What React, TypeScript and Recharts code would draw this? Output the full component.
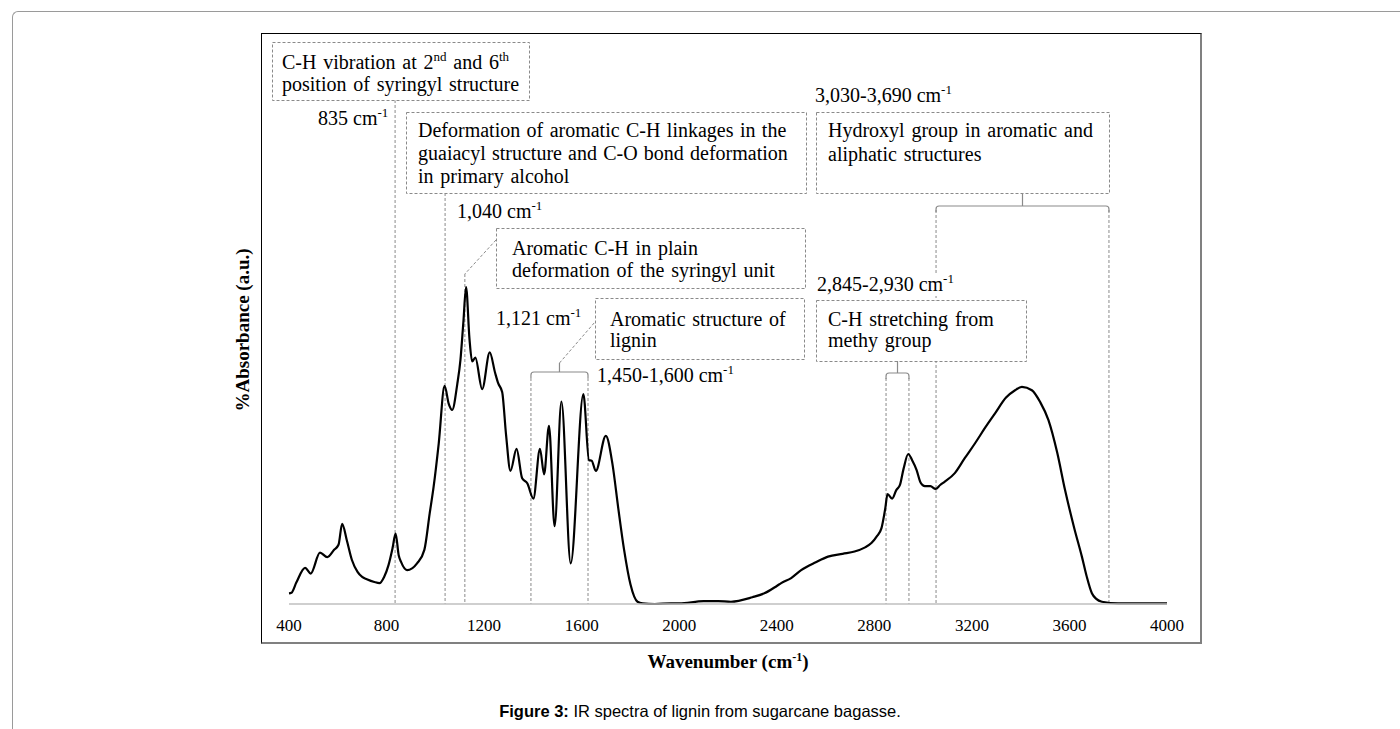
import React from 'react';
import { LineChart, Line, XAxis, YAxis, ReferenceLine } from 'recharts';

// ---- data ----
const wavenumbers = [
  400, 410, 430, 466, 489, 527, 557, 585, 603, 618, 637, 658, 681, 700, 719, 750, 771, 790, 808, 825,
  837, 850, 859, 884, 925, 955, 977, 993, 1014, 1038, 1055, 1069, 1090, 1103, 1115, 1126, 1140, 1151,
  1164, 1192, 1223, 1245, 1258, 1274, 1290, 1308, 1333, 1356, 1377, 1402, 1429, 1446, 1466, 1489, 1517,
  1555, 1607, 1630, 1641, 1658, 1699, 1726, 1750, 1774, 1800, 1829, 1850, 1900, 1966, 2000, 2100, 2160,
  2212, 2300, 2349, 2400, 2418, 2459, 2500, 2560, 2610, 2670, 2719, 2760, 2788, 2810, 2829, 2845, 2854,
  2873, 2890, 2905, 2920, 2939, 2955, 2973, 2990, 3007, 3030, 3051, 3070, 3089, 3130, 3170, 3213, 3255,
  3295, 3340, 3377, 3405, 3446, 3480, 3514, 3550, 3582, 3620, 3651, 3670, 3692, 3710, 3733, 3800, 4000,
];
const absorbance = [
  1.9, 2.0, 3.8, 6.4, 5.4, 9.1, 8.3, 9.6, 10.5, 14.2, 11.3, 7.8, 5.7, 4.8, 4.4, 3.9, 3.7, 4.8, 6.9, 10.0,
  12.5, 8.6, 7.5, 6.0, 7.2, 9.6, 16.1, 20.8, 28.5, 38.7, 35.5, 34.4, 39.0, 43.3, 50.0, 56.2, 47.0, 43.0,
  43.7, 38.1, 44.6, 41.0, 39.1, 37.6, 30.0, 23.6, 27.5, 22.3, 21.4, 18.7, 27.5, 23.0, 31.6, 13.8, 35.9,
  7.2, 37.2, 25.5, 25.4, 23.6, 29.8, 24.9, 17.0, 9.6, 3.5, 0.4, 0.1, 0.0, 0.1, 0.1, 0.5, 0.5,
  0.4, 1.2, 1.9, 3.2, 3.7, 4.6, 6.0, 7.4, 8.4, 8.9, 9.3, 10.0, 10.8, 12.0, 13.4, 17.0, 19.5,
  18.7, 20.2, 21.1, 24.0, 26.6, 25.5, 23.8, 21.5, 20.9, 20.9, 20.4, 21.1, 21.7, 23.2, 25.8, 28.5, 31.3,
  33.8, 36.6, 37.9, 38.5, 37.9, 35.8, 32.6, 26.8, 20.2, 13.4, 8.4, 5.0, 1.9, 0.9, 0.4, 0.1, 0.1,
];
const xTicks = [400, 800, 1200, 1600, 2000, 2400, 2800, 3200, 3600, 4000];
// wavenumbers where the dashed marker lines are drawn in the figure
const markerLines = [835, 1040, 1121, 1392, 1626, 2848, 2942, 3053, 3762];
const markerTopsPx = [100, 193, 274, 378, 378, 378, 378, 210, 210];

const data = wavenumbers.map((w, i) => ({ w, a: absorbance[i] }));

// ---- layout ----
const W = 1400;
const H = 729;
const PL = 289;
const PR = 1167;
const PT = 40;
const PB = 604;
const XMIN = 400;
const XMAX = 4000;
const YMAX = 100;
const X_AXIS_H = 30;

const xPx = (w: number) => PL + ((w - XMIN) / (XMAX - XMIN)) * (PR - PL);
const yVal = (py: number) => ((PB - py) / (PB - PT)) * YMAX;

const SERIF = '"Liberation Serif", "Times New Roman", serif';
const SANS = '"Liberation Sans", Arial, sans-serif';
const DASH = '#8a8a8a';
const FS = 20;
const SUP_FS = 13;
const LIFT = 8;

const Box = ({ x1, y1, x2, y2 }: { x1: number; y1: number; x2: number; y2: number }) => (
  <rect x={x1 + 0.5} y={y1 + 0.5} width={x2 - x1} height={y2 - y1} fill="#fff" stroke={DASH} strokeWidth={1} strokeDasharray="3 2" />
);

const Txt = ({ x, y, children, fs = FS, ws = 1.8 }: { x: number; y: number; children: React.ReactNode; fs?: number; ws?: number }) => (
  <text x={x} y={y} fontFamily={SERIF} fontSize={fs} fill="#000" style={{ wordSpacing: ws }}>{children}</text>
);

const bracket = (xa: number, xb: number, y: number, yTick: number) => {
  const r = 3;
  const xc = (xa + xb) / 2;
  return (
    <g fill="none" stroke="#8a8a8a" strokeWidth={1.2}>
      <path d={`M${xa},${y + 6} L${xa},${y + r} Q${xa},${y} ${xa + r},${y} L${xb - r},${y} Q${xb},${y} ${xb},${y + r} L${xb},${y + 6}`} />
      <line x1={xc} y1={y} x2={xc} y2={yTick} />
    </g>
  );
};

const CmLabel = ({ x, y, value }: { x: number; y: number; value: string }) => (
  <Txt x={x} y={y} ws={0}>
    {value} cm<tspan fontSize={SUP_FS} dy={-LIFT}>-1</tspan>
  </Txt>
);

const Overlay = () => {
  const x1121 = xPx(1121);
  const b1a = xPx(1392), b1b = xPx(1626);
  const b2a = xPx(2848), b2b = xPx(2942);
  const b3a = xPx(3053), b3b = xPx(3762);
  return (
    <svg width={W} height={H} style={{ position: 'absolute', left: 0, top: 0, pointerEvents: 'none' }}>
      {/* box 1 */}
      <Box x1={272} y1={42} x2={529} y2={100} />
      <Txt x={282} y={69}>
        C-H vibration at 2<tspan fontSize={SUP_FS} dy={-LIFT}>nd</tspan>
        <tspan dy={LIFT}> and 6</tspan>
        <tspan fontSize={SUP_FS} dy={-LIFT}>th</tspan>
      </Txt>
      <Txt x={282} y={91}>position of syringyl structure</Txt>
      <CmLabel x={318} y={125} value="835" />

      {/* box 2 */}
      <Box x1={406} y1={112} x2={806} y2={193} />
      <Txt x={418} y={137} ws={1.4}>Deformation of aromatic C-H linkages in the</Txt>
      <Txt x={418} y={160} ws={1.2}>guaiacyl structure and C-O bond deformation</Txt>
      <Txt x={418} y={183}>in primary alcohol</Txt>
      <CmLabel x={457} y={218} value="1,040" />

      {/* box 3 */}
      <Box x1={496} y1={228} x2={805} y2={288} />
      <Txt x={512} y={255}>Aromatic C-H in plain</Txt>
      <Txt x={512} y={277}>deformation of the syringyl unit</Txt>
      <line x1={496} y1={240} x2={x1121} y2={274} stroke={DASH} strokeDasharray="3 2" />
      <CmLabel x={496} y={325} value="1,121" />

      {/* box 4 */}
      <Box x1={595} y1={298} x2={804} y2={359} />
      <Txt x={610} y={326}>Aromatic structure of</Txt>
      <Txt x={610} y={347}>lignin</Txt>
      {bracket(b1a, b1b, 372, 363)}
      <line x1={(b1a + b1b) / 2} y1={363} x2={595} y2={322} stroke={DASH} strokeDasharray="3 2" />
      <CmLabel x={597} y={382} value="1,450-1,600" />

      {/* box 5 */}
      <CmLabel x={815} y={102} value="3,030-3,690" />
      <Box x1={816} y1={112} x2={1109} y2={193} />
      <Txt x={828} y={137}>Hydroxyl group in aromatic and</Txt>
      <Txt x={828} y={161}>aliphatic structures</Txt>
      {bracket(b3a, b3b, 206, 193)}

      {/* box 6 */}
      <rect x={814} y={273} width={148} height={23} fill="#fff" />
      <CmLabel x={817} y={291} value="2,845-2,930" />
      <Box x1={816} y1={300} x2={1026} y2={361} />
      <Txt x={828} y={326}>C-H stretching from</Txt>
      <Txt x={828} y={347}>methy group</Txt>
      {bracket(b2a, b2b, 373, 361)}

      {/* axis titles */}
      <text x={(PL + PR) / 2} y={668} textAnchor="middle" fontFamily={SERIF} fontSize={19} fontWeight="bold" fill="#000">
        Wavenumber (cm<tspan fontSize={12} dy={-7}>-1</tspan>
        <tspan dy={7}>)</tspan>
      </text>
      <text x={249} y={330} transform="rotate(-90, 249, 330)" textAnchor="middle" fontFamily={SERIF} fontSize={19} fontWeight="bold" fill="#000">
        %Absorbance (a.u.)
      </text>

      {/* caption */}
      <text x={700} y={717} textAnchor="middle" fontFamily={SANS} fontSize={16.5} fill="#000">
        <tspan fontWeight="bold">Figure 3:</tspan> IR spectra of lignin from sugarcane bagasse.
      </text>
    </svg>
  );
};

export default function App() {
  return (
    <div style={{ position: 'absolute', left: 0, top: 0, width: W, height: H, overflow: 'hidden', background: '#fff' }}>
      {/* page frame */}
      <div style={{ position: 'absolute', left: 12, top: 11, width: W - 13, height: H - 12, borderTop: '1px solid #9a9a9a', borderLeft: '1px solid #9a9a9a', borderTopLeftRadius: 6 }} />
      {/* chart frame */}
      <div style={{ position: 'absolute', left: 261, top: 33, width: 938, height: 608, borderTop: '1px solid #000', borderLeft: '1px solid #000', borderRight: '2px solid #808080', borderBottom: '2px solid #808080' }} />
      <div style={{ position: 'absolute', left: 0, top: 0 }}>
        <LineChart width={W} height={H} data={data} margin={{ top: PT, left: PL, right: W - PR, bottom: H - PB - X_AXIS_H }}>
          <XAxis
            dataKey="w"
            type="number"
            domain={[XMIN, XMAX]}
            ticks={xTicks}
            interval={0}
            height={X_AXIS_H}
            axisLine={{ stroke: '#bfbfbf', strokeWidth: 1.5 }}
            tickLine={false}
            tickMargin={9}
            tick={{ fill: '#000', fontSize: 17, fontFamily: SERIF }}
          />
          <YAxis hide type="number" domain={[0, YMAX]} />
          {markerLines.map((w, i) => (
            <ReferenceLine
              key={w}
              segment={[{ x: w, y: yVal(markerTopsPx[i]) }, { x: w, y: 0 }]}
              stroke={DASH}
              strokeWidth={1}
              strokeDasharray="3 2"
            />
          ))}
          <Line type="monotone" dataKey="a" stroke="#000" strokeWidth={2.2} dot={false} isAnimationActive={false} />
        </LineChart>
      </div>
      <Overlay />
    </div>
  );
}
